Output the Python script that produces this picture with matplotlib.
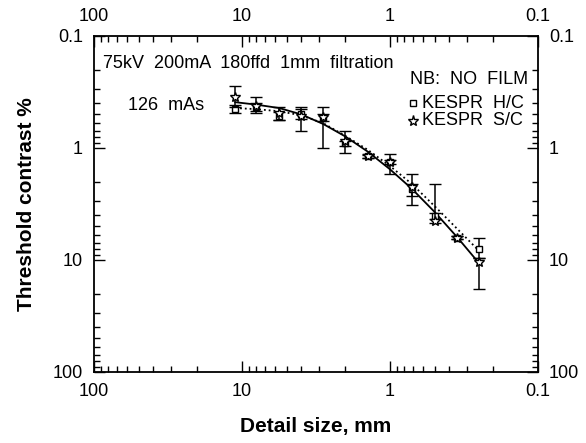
import matplotlib
matplotlib.use("Agg")
import matplotlib.pyplot as plt
from matplotlib.ticker import LogLocator, NullFormatter, FixedLocator, FixedFormatter
import numpy as np

plt.rcParams['font.family'] = ['Liberation Sans', 'DejaVu Sans']

# Detail sizes (mm)
detail_mm = [11.1, 8.0, 5.6, 4.0, 2.83, 2.0, 1.41, 1.0, 0.71, 0.5, 0.35, 0.25]

# KESPR H/C (squares)
hc_val = [0.45, 0.43, 0.52, 0.50, 0.535, 0.91, 1.19, 1.34, 2.32, 4.03, 6.3, 7.9]
hc_lo = [0.41, 0.40, 0.48, 0.45, 0.50, 0.86, 1.15, 1.14, 2.10, 3.8, 6.1, 6.4]
hc_hi = [0.49, 0.47, 0.56, 0.55, 0.57, 0.96, 1.23, 1.71, 2.70, 4.3, 6.5, 9.5]

# KESPR S/C (stars)
sc_val = [0.35, 0.42, 0.49, 0.52, 0.53, 0.87, 1.17, 1.34, 2.23, 4.48, 6.3, 10.5]
sc_lo = [0.28, 0.35, 0.43, 0.43, 0.43, 0.70, 1.12, 1.28, 1.71, 2.1, 6.1, 9.5]
sc_hi = [0.43, 0.49, 0.56, 0.70, 0.99, 1.11, 1.22, 1.40, 3.20, 4.7, 6.5, 18.1]

# Fitted curves
fit_solid = [0.39, 0.41, 0.44, 0.50, 0.61, 0.79, 1.08, 1.55, 2.32, 3.72, 6.3, 10.7]
fit_dotted = [0.44, 0.45, 0.47, 0.51, 0.60, 0.78, 1.04, 1.45, 2.10, 3.3, 5.3, 8.3]

tick_vals = [100, 10, 1, 0.1]
tick_labels = ["100", "10", "1", "0.1"]

fig = plt.figure(figsize=(5.86, 4.43), dpi=100)
ax = fig.add_axes([94/586, 1-372/443, (538-94)/586, (372-36)/443])

ax.set_xscale('log')
ax.set_yscale('log')
ax.set_xlim(100, 0.1)
ax.set_ylim(100, 0.1)

ax.plot(detail_mm, fit_solid, '-', color='black', lw=1.3, zorder=2)
ax.plot(detail_mm, fit_dotted, ':', color='black', lw=1.3, zorder=2)

def errs(v, lo, hi):
    v = np.array(v)
    return np.vstack([v - np.array(lo), np.array(hi) - v])

ax.errorbar(detail_mm, hc_val, yerr=errs(hc_val, hc_lo, hc_hi), fmt='s', ms=5,
            mfc='white', mec='black', mew=1.0, ecolor='black', elinewidth=1.1,
            capsize=4, capthick=1.1, zorder=3)
ax.errorbar(detail_mm, sc_val, yerr=errs(sc_val, sc_lo, sc_hi), fmt='*', ms=7,
            mfc='white', mec='black', mew=1.0, ecolor='black', elinewidth=1.1,
            capsize=4, capthick=1.1, zorder=4)

for axis in (ax.xaxis, ax.yaxis):
    axis.set_major_locator(FixedLocator(tick_vals))
    axis.set_major_formatter(FixedFormatter(tick_labels))
    axis.set_minor_locator(LogLocator(base=10, subs=np.arange(2, 10), numticks=20))
    axis.set_minor_formatter(NullFormatter())

ax.tick_params(which='both', direction='in', top=True, right=True,
               labeltop=True, labelright=True, labelsize=13, width=1.0)
ax.tick_params(which='major', length=8, pad=8)
ax.tick_params(which='minor', length=4)
for s in ax.spines.values():
    s.set_linewidth(1.3)

ax.set_xlabel('Detail size, mm', fontsize=15, fontweight='bold', labelpad=12)
ax.set_ylabel('Threshold contrast %', fontsize=15, fontweight='bold', labelpad=12)

fig.text(103/586, 1-63/443, '75kV  200mA  180ffd  1mm  filtration', fontsize=13, va='center')
fig.text(128/586, 1-105/443, '126  mAs', fontsize=13, va='center')
fig.text(410/586, 1-80/443, 'NB:  NO  FILM', fontsize=13, va='center')
fig.text(422/586, 1-103/443, 'KESPR  H/C', fontsize=13, va='center')
fig.text(422/586, 1-121/443, 'KESPR  S/C', fontsize=13, va='center')
fig.add_artist(plt.Line2D([413/586], [1-103/443], marker='s', ms=5, mfc='white',
                          mec='black', transform=fig.transFigure))
fig.add_artist(plt.Line2D([413/586], [1-121/443], marker='*', ms=8, mfc='white',
                          mec='black', transform=fig.transFigure))

fig.savefig('out.png', dpi=100)
